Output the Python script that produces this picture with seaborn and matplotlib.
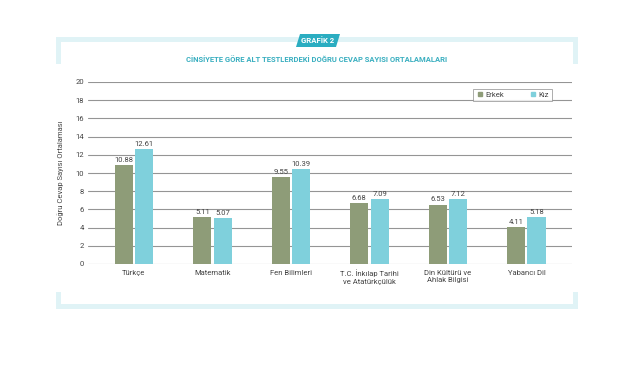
import matplotlib
matplotlib.use("Agg")
import matplotlib.pyplot as plt
import seaborn as sns
import pandas as pd
from matplotlib.patches import Polygon, Rectangle
from matplotlib.lines import Line2D

categories = ["Türkçe", "Matematik", "Fen Bilimleri",
              "T.C. İnkılap Tarihi\nve Atatürkçülük",
              "Din Kültürü ve\nAhlak Bilgisi", "Yabancı Dil"]
erkek = [10.88, 5.11, 9.55, 6.68, 6.53, 4.11]
kiz = [12.61, 5.07, 10.39, 7.09, 7.12, 5.18]
series_names = ["Erkek", "Kız"]
yticks = list(range(0, 21, 2))

df = pd.DataFrame({
    "cat": categories * 2,
    "val": erkek + kiz,
    "grp": [series_names[0]] * len(categories) + [series_names[1]] * len(categories),
})

sns.set_theme(style="white")
plt.rcParams['font.family'] = ['Roboto', 'DejaVu Sans']

fig = plt.figure(figsize=(6.35, 3.88), dpi=100)
ax = fig.add_axes([88/635, 1-264/388, (572-88)/635, (264-82)/388])

colors = {"Erkek": "#8e9c78", "Kız": "#7fd0dc"}
sns.barplot(data=df, x="cat", y="val", hue="grp", palette=colors, ax=ax,
            width=0.52, gap=0.1, legend=False, errorbar=None, zorder=3,
            saturation=1, linewidth=0)

ax.set_ylim(0, 20)
ax.set_xlim(-0.586, 5.58)
ax.set_yticks(yticks)
ax.set_yticklabels([str(t) for t in yticks], fontsize=5.5, color="#444444")
ax.yaxis.grid(True, color="#959595", linewidth=0.8, zorder=0)
ax.set_axisbelow(True)
for s in ax.spines.values():
    s.set_visible(False)
ax.tick_params(axis="both", length=0, pad=3)
ax.tick_params(axis="x", pad=4)
ax.set_xticks(range(len(categories)))
ax.set_xticklabels(categories, fontsize=5.5, color="#444444", linespacing=1.3)
ax.set_xlabel("")
ax.set_ylabel("Doğru Cevap Sayısı Ortalaması", fontsize=5.5, color="#444444", labelpad=8)

for cont in ax.containers:
    labels = [f"{v:.2f}" for v in cont.datavalues]
    ax.bar_label(cont, labels=labels, fontsize=5.5, color="#444444", padding=1.5)

handles = [Line2D([], [], marker="s", linestyle="", markersize=3.5,
                  markerfacecolor=colors[n], markeredgecolor=colors[n]) for n in series_names]
leg = ax.legend(handles, series_names, loc="upper right", bbox_to_anchor=(0.967, 0.985),
                ncol=2, fontsize=5.5, frameon=True, fancybox=False, edgecolor="#888888",
                handletextpad=0.3, columnspacing=3.2, borderpad=0.4, handlelength=1.0)
leg.get_frame().set_linewidth(0.6)
for t in leg.get_texts():
    t.set_color("#444444")

fc = "#e0f3f6"
def frect(x, y, w, h):
    fig.patches.append(Rectangle((x/635, 1-(y+h)/388), w/635, h/388,
                                 transform=fig.transFigure, facecolor=fc, edgecolor="none"))
frect(56, 37, 522, 5)
frect(56, 37, 5, 27)
frect(573, 37, 5, 27)
frect(56, 304, 522, 5)
frect(56, 292, 5, 17)
frect(573, 292, 5, 17)

fig.patches.append(Polygon([(296/635, 1-47/388), (300/635, 1-34/388),
                            (340/635, 1-34/388), (336/635, 1-47/388)],
                           closed=True, transform=fig.transFigure,
                           facecolor="#2badc1", edgecolor="none"))
fig.text(318/635, 1-40.5/388, "GRAFİK 2", ha="center", va="center", fontsize=5.6,
         fontweight="bold", color="white")
fig.text(317/635, 1-60/388, "CİNSİYETE GÖRE ALT TESTLERDEKİ DOĞRU CEVAP SAYISI ORTALAMALARI",
         ha="center", va="center", fontsize=5.5, color="#3aafc0", fontweight="bold")

fig.savefig("out.png", dpi=100, facecolor="white")
